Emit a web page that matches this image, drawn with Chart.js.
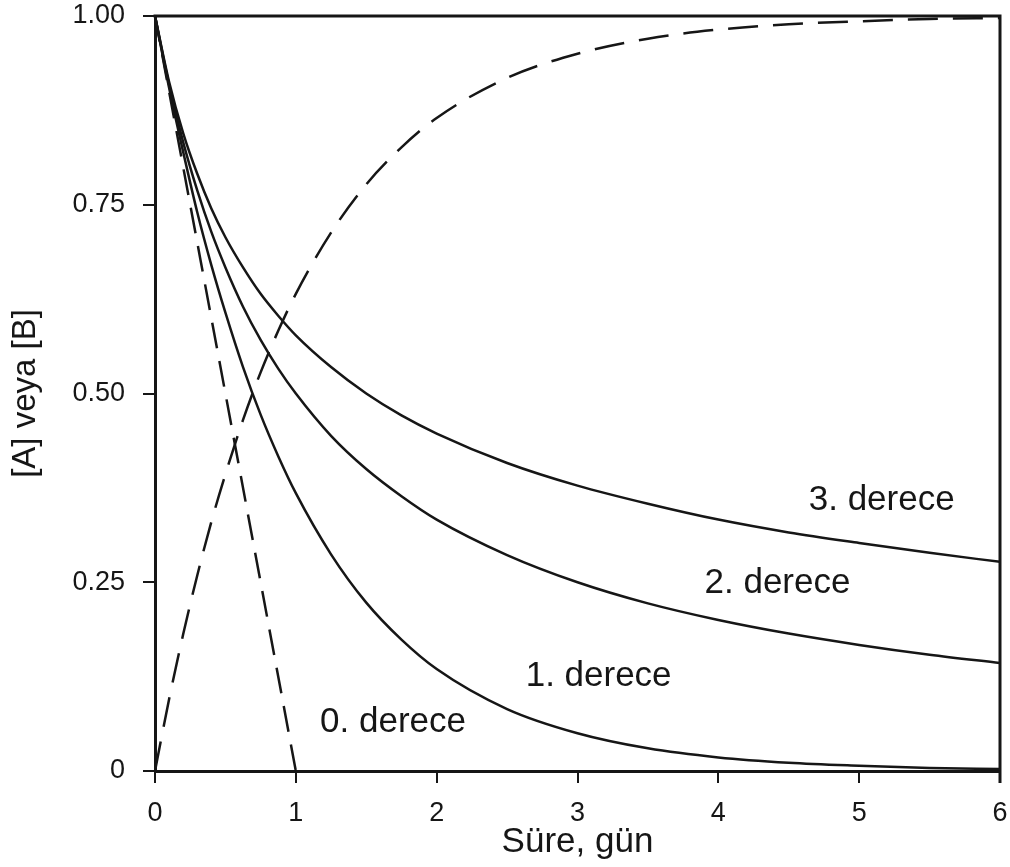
<!DOCTYPE html>
<html>
<head>
<meta charset="utf-8">
<script src="https://cdn.jsdelivr.net/npm/chart.js@4.4.1/dist/chart.umd.min.js"></script>
<style>
  html, body { margin: 0; padding: 0; background: #ffffff; }
  #wrap { width: 1010px; height: 867px; }
</style>
</head>
<body>
<div id="wrap"><canvas id="c" width="1010" height="867"></canvas></div>
<script>
// ---- data ----
const times       = [0, 0.1, 0.2, 0.3, 0.4, 0.5, 0.625, 0.75, 0.875, 1, 1.25, 1.5, 1.75, 2, 2.5, 3, 3.5, 4, 4.5, 5, 5.5, 6];
const firstOrder  = [1.00, 0.905, 0.82, 0.74, 0.67, 0.607, 0.535, 0.472, 0.417, 0.368, 0.287, 0.223, 0.174, 0.135, 0.082, 0.050, 0.030, 0.018, 0.011, 0.007, 0.004, 0.0025];
const secondOrder = [1.00, 0.909, 0.833, 0.769, 0.714, 0.667, 0.615, 0.571, 0.533, 0.50, 0.444, 0.40, 0.364, 0.333, 0.286, 0.25, 0.222, 0.20, 0.182, 0.167, 0.154, 0.143];
const thirdOrder  = [1.00, 0.913, 0.845, 0.791, 0.745, 0.707, 0.667, 0.632, 0.603, 0.577, 0.535, 0.50, 0.471, 0.447, 0.408, 0.378, 0.354, 0.333, 0.316, 0.302, 0.289, 0.277];
const productB    = [0, 0.095, 0.181, 0.259, 0.33, 0.393, 0.465, 0.528, 0.583, 0.632, 0.713, 0.777, 0.826, 0.865, 0.918, 0.950, 0.970, 0.982, 0.989, 0.993, 0.996, 0.9975];
const zeroTimes   = [0, 1];
const zeroOrder   = [1, 0];

const xTickValues = [0, 1, 2, 3, 4, 5, 6];
const yTickValues = [0, 0.25, 0.5, 0.75, 1];
const yTickLabels = ["0", "0.25", "0.50", "0.75", "1.00"];

const curveLabels = ["0. derece", "1. derece", "2. derece", "3. derece"];
const curveLabelX = [1.69, 3.15, 4.42, 5.16];
const curveLabelY = [0.065, 0.125, 0.249, 0.359];

const xTitle = "Süre, gün";
const yTitle = "[A] veya [B]";

// ---- chart ----
const INK = '#161616';
const FONT = "'Liberation Sans', Arial, Helvetica, sans-serif";

function pts(xs, ys) { return xs.map((x, i) => ({ x: x, y: ys[i] })); }

function solid(label, xs, ys) {
  return { label, data: pts(xs, ys), borderColor: INK, borderWidth: 2.5, pointRadius: 0,
           cubicInterpolationMode: 'monotone', fill: false };
}
function dashed(label, xs, ys, dash) {
  return { label, data: pts(xs, ys), borderColor: INK, borderWidth: 2.5, pointRadius: 0,
           borderDash: dash, cubicInterpolationMode: 'monotone', fill: false };
}

const framePlugin = {
  id: 'frame',
  afterDatasetsDraw(chart) {
    const { ctx, chartArea: a } = chart;
    ctx.save();
    ctx.strokeStyle = INK;
    ctx.lineWidth = 3;
    ctx.beginPath();
    ctx.moveTo(a.left - 1.5, a.top);
    ctx.lineTo(a.right, a.top);
    ctx.lineTo(a.right, a.bottom + 12);
    ctx.stroke();
    ctx.restore();
  }
};

const labelPlugin = {
  id: 'curveLabels',
  afterDatasetsDraw(chart) {
    const { ctx, scales } = chart;
    ctx.save();
    ctx.fillStyle = INK;
    ctx.font = "35px " + FONT;
    ctx.textAlign = 'center';
    ctx.textBaseline = 'middle';
    curveLabels.forEach((t, i) => {
      ctx.fillText(t, scales.x.getPixelForValue(curveLabelX[i]), scales.y.getPixelForValue(curveLabelY[i]));
    });
    ctx.restore();
  }
};

new Chart(document.getElementById('c'), {
  type: 'line',
  data: {
    datasets: [
      dashed('0. derece', zeroTimes, zeroOrder, [26, 13]),
      solid('1. derece', times, firstOrder),
      solid('2. derece', times, secondOrder),
      solid('3. derece', times, thirdOrder),
      dashed('[B]', times, productB, [30, 15])
    ]
  },
  options: {
    responsive: false,
    animation: false,
    devicePixelRatio: 1,
    layout: { padding: { top: 0, right: 0, left: 0, bottom: 0 } },
    plugins: { legend: { display: false }, tooltip: { enabled: false } },
    scales: {
      x: {
        type: 'linear', min: 0, max: 6,
        afterBuildTicks(s) { s.ticks = xTickValues.map(v => ({ value: v })); },
        afterFit(s) { s.height = 96; s.paddingLeft = 0; s.paddingRight = 10; },
        border: { display: true, color: INK, width: 3 },
        grid: { display: true, drawOnChartArea: false, drawTicks: true, tickLength: 12, color: INK, lineWidth: 2 },
        ticks: { color: INK, padding: 14, font: { family: FONT, size: 27 }, maxRotation: 0,
                 callback: v => String(v) },
        title: { display: true, text: xTitle, color: INK, font: { family: FONT, size: 35 },
                 padding: { top: 0, bottom: 4 } }
      },
      y: {
        type: 'linear', min: 0, max: 1,
        afterBuildTicks(s) { s.ticks = yTickValues.map(v => ({ value: v })); },
        afterFit(s) { s.width = 155; s.paddingTop = 16; s.paddingBottom = 0; },
        border: { display: true, color: INK, width: 3 },
        grid: { display: true, drawOnChartArea: false, drawTicks: true, tickLength: 12, color: INK, lineWidth: 2 },
        ticks: { color: INK, padding: 18, font: { family: FONT, size: 27 },
                 callback: (v) => { const i = yTickValues.indexOf(v); return i >= 0 ? yTickLabels[i] : ''; } },
        title: { display: true, text: yTitle, color: INK, font: { family: FONT, size: 33 },
                 padding: { top: 6, bottom: 0 } }
      }
    }
  },
  plugins: [framePlugin, labelPlugin]
});
</script>
</body>
</html>
